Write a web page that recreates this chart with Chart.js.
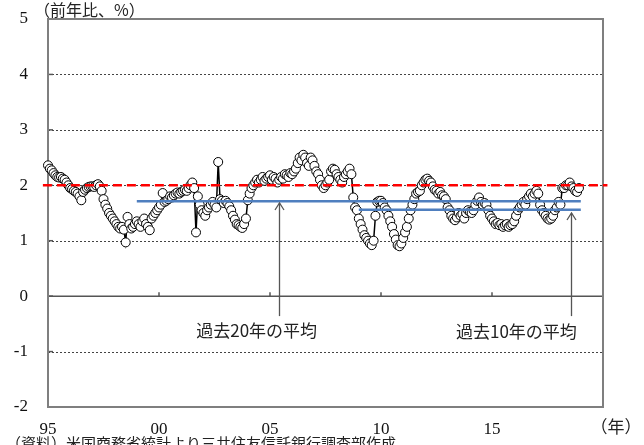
<!DOCTYPE html>
<html><head><meta charset="utf-8">
<script src="https://cdn.jsdelivr.net/npm/chart.js@4.4.0/dist/chart.umd.min.js"></script>
<style>html,body{margin:0;padding:0;background:#fff;}canvas{display:block;}</style>
</head><body>
<canvas id="c" width="644" height="445"></canvas>
<script>
// ---- data (year-on-year %, monthly Jan..Dec) ----
const v1995 = [2.36,2.30,2.27,2.22,2.18,2.15,2.14,2.15,2.12,2.10,2.05,2.00];
const v1996 = [1.95,1.93,1.90,1.88,1.85,1.80,1.73,1.88,1.92,1.95,1.97,1.98];
const v1997 = [1.98,1.97,2.00,2.02,1.98,1.90,1.75,1.65,1.58,1.50,1.45,1.40];
const v1998 = [1.35,1.30,1.25,1.22,1.25,1.20,0.97,1.43,1.30,1.22,1.25,1.30];
const v1999 = [1.35,1.30,1.25,1.35,1.40,1.30,1.25,1.19,1.40,1.45,1.50,1.55];
const v2000 = [1.60,1.65,1.86,1.70,1.72,1.75,1.80,1.78,1.82,1.85,1.87,1.85];
const v2001 = [1.88,1.90,1.92,1.90,1.95,2.00,2.05,1.95,1.15,1.80,1.65,1.55];
const v2002 = [1.50,1.45,1.55,1.60,1.65,1.70,1.65,1.60,2.42,1.75,1.72,1.68];
const v2003 = [1.72,1.68,1.62,1.55,1.45,1.38,1.30,1.28,1.25,1.23,1.30,1.40];
const v2004 = [1.73,1.85,1.95,2.00,2.05,2.10,2.05,2.10,2.15,2.08,2.12,2.15];
const v2005 = [2.18,2.10,2.15,2.12,2.05,2.10,2.15,2.12,2.20,2.18,2.15,2.22];
const v2006 = [2.20,2.25,2.30,2.40,2.50,2.45,2.55,2.50,2.40,2.35,2.50,2.45];
const v2007 = [2.35,2.25,2.20,2.10,2.00,1.95,2.00,2.05,2.10,2.25,2.30,2.28];
const v2008 = [2.20,2.15,2.10,2.05,2.15,2.20,2.25,2.30,2.20,1.78,1.60,1.55];
const v2009 = [1.40,1.30,1.20,1.10,1.05,1.00,0.95,0.92,1.00,1.45,1.70,1.72];
const v2010 = [1.72,1.68,1.60,1.55,1.45,1.35,1.25,1.12,1.02,0.92,0.90,0.95];
const v2011 = [1.05,1.15,1.25,1.40,1.55,1.65,1.75,1.85,1.88,1.90,2.00,2.05];
const v2012 = [2.10,2.12,2.08,2.05,1.98,1.92,1.90,1.85,1.88,1.82,1.80,1.75];
const v2013 = [1.60,1.55,1.45,1.40,1.37,1.42,1.50,1.45,1.48,1.40,1.50,1.55];
const v2014 = [1.52,1.50,1.55,1.65,1.72,1.78,1.70,1.65,1.68,1.65,1.55,1.45];
const v2015 = [1.40,1.35,1.30,1.32,1.28,1.30,1.25,1.28,1.30,1.25,1.28,1.30];
const v2016 = [1.35,1.45,1.55,1.60,1.65,1.70,1.65,1.75,1.80,1.85,1.80,1.85];
const v2017 = [1.90,1.85,1.65,1.55,1.50,1.45,1.40,1.38,1.40,1.45,1.55,1.60];
const v2018 = [1.70,1.65,1.95,1.95,2.00,2.00,2.05,1.98,1.95,1.90,1.88,1.95];

const firstYear = 1995;
const yearlySeries = [v1995,v1996,v1997,v1998,v1999,v2000,v2001,v2002,v2003,v2004,v2005,v2006,
  v2007,v2008,v2009,v2010,v2011,v2012,v2013,v2014,v2015,v2016,v2017,v2018];

const targetValue = 2.0;           // red dashed
const avg20Value = 1.71;           // 過去20年の平均
const avg20Years = [1999, 2019];
const avg10Value = 1.56;           // 過去10年の平均
const avg10Years = [2009, 2019];

const xTickYears = [1995, 2000, 2005, 2010, 2015];
const xTickLabels = ['95', '00', '05', '10', '15'];
const yTicks = [5, 4, 3, 2, 1, 0, -1, -2];

const unitLabel = '（前年比、%）';
const xUnitLabel = '（年）';
const label20 = '過去20年の平均';
const label10 = '過去10年の平均';
const sourceNote = '（資料）米国商務省統計より三井住友信託銀行調査部作成';

// ---- build points ----
const points = [];
yearlySeries.forEach((arr, i) => arr.forEach((v, m) => points.push({x: firstYear + i + m / 12, y: v})));

const SERIF = '"Liberation Serif", "Times New Roman", serif';
const JP = '"Noto Sans CJK JP", sans-serif';

const decor = {
  id: 'decor',
  beforeDatasetsDraw(chart) {
    const {ctx, chartArea: a, scales: {x, y}} = chart;
    ctx.save();
    ctx.strokeStyle = '#444'; ctx.lineWidth = 1; ctx.setLineDash([2, 2]);
    yTicks.forEach(t => {
      if (t === 0 || t === 5 || t === -2) return;
      const py = Math.round(y.getPixelForValue(t)) + 0.5;
      ctx.beginPath(); ctx.moveTo(a.left, py); ctx.lineTo(a.right, py); ctx.stroke();
    });
    ctx.setLineDash([]);
    ctx.strokeStyle = '#555'; ctx.lineWidth = 1.5;
    const y0 = y.getPixelForValue(0);
    ctx.beginPath(); ctx.moveTo(a.left, y0); ctx.lineTo(a.right, y0); ctx.stroke();
    xTickYears.forEach(t => {
      if (t === xTickYears[0]) return;
      const px = x.getPixelForValue(t);
      ctx.beginPath(); ctx.moveTo(px, y0); ctx.lineTo(px, y0 - 4); ctx.stroke();
    });
    yTicks.forEach(t => {
      const py = y.getPixelForValue(t);
      ctx.beginPath(); ctx.moveTo(a.left, py); ctx.lineTo(a.left + 5, py); ctx.stroke();
    });
    ctx.strokeStyle = '#7f7f7f'; ctx.lineWidth = 2;
    ctx.strokeRect(a.left, a.top, a.right - a.left, a.bottom - a.top);
    ctx.restore();
  },
  afterDraw(chart) {
    const {ctx, chartArea: a, scales: {x, y}} = chart;
    ctx.save();
    const arrow = (xv, yTop, yBottom) => {
      const px = Math.round(x.getPixelForValue(xv)) + 0.5;
      const pt = y.getPixelForValue(yTop), pb = y.getPixelForValue(yBottom);
      ctx.strokeStyle = '#555'; ctx.lineWidth = 1.3;
      ctx.beginPath(); ctx.moveTo(px, pt); ctx.lineTo(px, pb); ctx.stroke();
      ctx.beginPath(); ctx.moveTo(px - 4.5, pt + 7); ctx.lineTo(px, pt); ctx.lineTo(px + 4.5, pt + 7); ctx.stroke();
    };
    arrow(2005.4, 1.68, -0.36);
    arrow(2018.55, 1.50, -0.36);
    const label = (txt, xv, yv) => {
      ctx.font = '17px ' + JP;
      const w = ctx.measureText(txt).width;
      const px = x.getPixelForValue(xv), py = y.getPixelForValue(yv);
      ctx.fillStyle = '#fff'; ctx.fillRect(px - w / 2 - 2, py - 11, w + 4, 22);
      ctx.fillStyle = '#222'; ctx.textAlign = 'center'; ctx.textBaseline = 'middle';
      ctx.fillText(txt, px, py);
    };
    label(label20, 2004.4, -0.62);
    label(label10, 2016.1, -0.64);
    ctx.fillStyle = '#222'; ctx.textBaseline = 'middle';
    ctx.font = '16px ' + JP; ctx.textAlign = 'left';
    ctx.fillText(unitLabel, 34, 10);
    ctx.font = '17px ' + JP; ctx.textAlign = 'center';
    ctx.fillText(xUnitLabel, 616, 427);
    ctx.font = '15px ' + JP; ctx.textAlign = 'left'; ctx.textBaseline = 'top';
    ctx.fillText(sourceNote, 6, 436);
    ctx.restore();
  }
};

new Chart(document.getElementById('c'), {
  type: 'line',
  data: {
    datasets: [
      {
        label: 'target', data: [{x: firstYear - 0.23, y: targetValue}, {x: 2020.2, y: targetValue}],
        borderColor: '#ff0000', borderWidth: 2.5, borderDash: [9, 5], pointRadius: 0, clip: false, order: 1
      },
      {
        label: 'avg20', data: [{x: avg20Years[0], y: avg20Value}, {x: avg20Years[1], y: avg20Value}],
        borderColor: '#4f7fbf', borderWidth: 2.5, pointRadius: 0, order: 2
      },
      {
        label: 'avg10', data: [{x: avg10Years[0], y: avg10Value}, {x: avg10Years[1], y: avg10Value}],
        borderColor: '#4f7fbf', borderWidth: 2.5, pointRadius: 0, order: 2
      },
      {
        label: 'series', data: points, borderColor: '#000', borderWidth: 1.5,
        pointRadius: 4.5, pointBackgroundColor: '#fff', pointBorderColor: '#000', pointBorderWidth: 1,
        tension: 0, clip: false, order: 3
      }
    ]
  },
  options: {
    responsive: false, animation: false,
    layout: {padding: {top: 19, right: 41, left: 0, bottom: 0}},
    plugins: {legend: {display: false}, tooltip: {enabled: false}},
    scales: {
      x: {
        type: 'linear', min: 1995, max: 2020,
        grid: {display: false, drawTicks: false}, border: {display: false},
        afterBuildTicks: s => { s.ticks = xTickYears.map(v => ({value: v})); },
        afterFit: s => { s.height = 38; s.paddingLeft = 0; s.paddingRight = 0; },
        ticks: {
          padding: 12, color: '#111', maxRotation: 0, autoSkip: false,
          font: {family: SERIF, size: 17},
          callback: v => xTickLabels[xTickYears.indexOf(v)]
        }
      },
      y: {
        min: -2, max: 5,
        grid: {display: false, drawTicks: false}, border: {display: false},
        afterBuildTicks: s => { s.ticks = yTicks.map(v => ({value: v})); },
        afterFit: s => { s.width = 48; s.paddingTop = 0; s.paddingBottom = 0; },
        ticks: {padding: 20, color: '#111', font: {family: SERIF, size: 17}}
      }
    }
  },
  plugins: [decor]
});
</script>
</body></html>
